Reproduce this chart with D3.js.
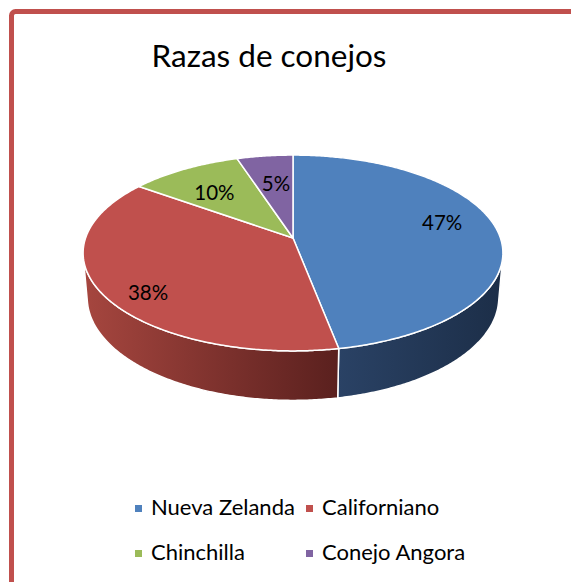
<!DOCTYPE html>
<html>
<head>
<meta charset="utf-8">
<script src="https://cdn.jsdelivr.net/npm/d3@7"></script>
<style>
  html, body { margin: 0; padding: 0; background: #ffffff; }
  svg { display: block; }
  text { font-family: Lato, "Open Sans", "DejaVu Sans", sans-serif; fill: #000; }
</style>
</head>
<body>
<svg id="chart" width="571" height="582"></svg>
<script>
// Breeds and their shares (percent)
const breeds = ["Nueva Zelanda", "Californiano", "Chinchilla", "Conejo Angora"];
const shares = [47, 38, 10, 5];
const topColors = ["#4f81bd", "#c0504d", "#9bbb59", "#8064a2"];
const wallLight = ["#2a4265", "#a6463f", "#7a9446", "#654f82"];
const wallDark  = ["#1c2e48", "#5a201e", "#4c5e2a", "#3f3153"];
const title = "Razas de conejos";

const svg = d3.select("#chart");
const W = 571, H = 582;

// Frame of the chart area
svg.append("rect")
  .attr("x", 11.5).attr("y", 11.5)
  .attr("width", W + 40).attr("height", H + 40)
  .attr("rx", 4)
  .attr("fill", "#ffffff")
  .attr("stroke", "#c0504d")
  .attr("stroke-width", 5);

svg.append("text")
  .attr("x", 269).attr("y", 67)
  .attr("text-anchor", "middle")
  .attr("font-size", 31.5)
  .text(title);

// --- 3D perspective projection of a unit-radius disk ---
const cx = 293, cy = 238;          // screen position of the disk centre
const tilt = Math.asin(0.461);     // camera elevation
const camDist = 5.8;               // camera distance (disk radii)
const focal = 1203;                // focal length in px
const thick = 0.245;               // disk thickness (radii)
const sinA = Math.sin(tilt), cosA = Math.cos(tilt);

function project(theta, r, h) {
  const X = r * Math.sin(theta), Z = r * Math.cos(theta);
  const yc = h * cosA + Z * sinA;
  const depth = camDist + Z * cosA - h * sinA;
  return [cx + focal * X / depth, cy - focal * yc / depth];
}

const pie = d3.pie().sort(null).startAngle(0).endAngle(2 * Math.PI);
const arcs = pie(shares);

function arcPoints(a0, a1, r, h) {
  const n = Math.max(2, Math.ceil(Math.abs(a1 - a0) / 0.01));
  return d3.range(n + 1).map(i => project(a0 + (a1 - a0) * i / n, r, h));
}

const line = d3.line();
const defs = svg.append("defs");

// Outer walls: only the part facing the camera
const visLimit = Math.acos(-1 / (camDist * cosA));
const visStart = visLimit, visEnd = 2 * Math.PI - visLimit;

const walls = svg.append("g");
arcs.forEach((d, i) => {
  const a0 = Math.max(d.startAngle, visStart);
  const a1 = Math.min(d.endAngle, visEnd);
  if (a1 <= a0) return;
  const topPts = arcPoints(a0, a1, 1, 0);
  const botPts = arcPoints(a1, a0, 1, -thick);
  const pts = topPts.concat(botPts);
  const xs = pts.map(p => p[0]);
  const gid = "wall" + i;
  const g = defs.append("linearGradient").attr("id", gid)
    .attr("gradientUnits", "userSpaceOnUse")
    .attr("x1", d3.min(xs)).attr("x2", d3.max(xs))
    .attr("y1", 0).attr("y2", 0);
  // lighter towards the left, darker towards the right
  g.append("stop").attr("offset", 0).attr("stop-color", wallLight[i]);
  g.append("stop").attr("offset", 1).attr("stop-color", wallDark[i]);
  walls.append("path")
    .attr("d", line(pts) + "Z")
    .attr("fill", `url(#${gid})`)
    .attr("stroke", "#ffffff")
    .attr("stroke-width", 1.5)
    .attr("stroke-linejoin", "round");
});

// Top faces
const tops = svg.append("g");
arcs.forEach((d, i) => {
  const pts = [project(0, 0, 0)].concat(arcPoints(d.startAngle, d.endAngle, 1, 0));
  tops.append("path")
    .attr("d", line(pts) + "Z")
    .attr("fill", topColors[i])
    .attr("stroke", "#ffffff")
    .attr("stroke-width", 1.5)
    .attr("stroke-linejoin", "round");
});

// Percentage labels, placed on the top face and nudged clear of the slice edges
const labelNudge = [[2, -10], [-11, 15], [2, 5], [4, 6]];
const total = d3.sum(shares);
const labels = svg.append("g");
arcs.forEach((d, i) => {
  const mid = (d.startAngle + d.endAngle) / 2;
  const [x, y] = project(mid, 0.72, 0);
  labels.append("text")
    .attr("x", x + labelNudge[i][0]).attr("y", y + labelNudge[i][1])
    .attr("text-anchor", "middle")
    .attr("dominant-baseline", "central")
    .attr("font-size", 20.5)
    .text(Math.round(shares[i] / total * 100) + "%");
});

// Legend (two columns, two rows)
const legend = svg.append("g");
const colX = [135, 306], rowY = [515, 560];
breeds.forEach((b, i) => {
  const x = colX[i % 2], y = rowY[Math.floor(i / 2)];
  legend.append("rect")
    .attr("x", x).attr("y", y - 10)
    .attr("width", 7).attr("height", 7)
    .attr("fill", topColors[i]);
  legend.append("text")
    .attr("x", x + 16).attr("y", y)
    .attr("font-size", 22)
    .text(b);
});
</script>
</body>
</html>
